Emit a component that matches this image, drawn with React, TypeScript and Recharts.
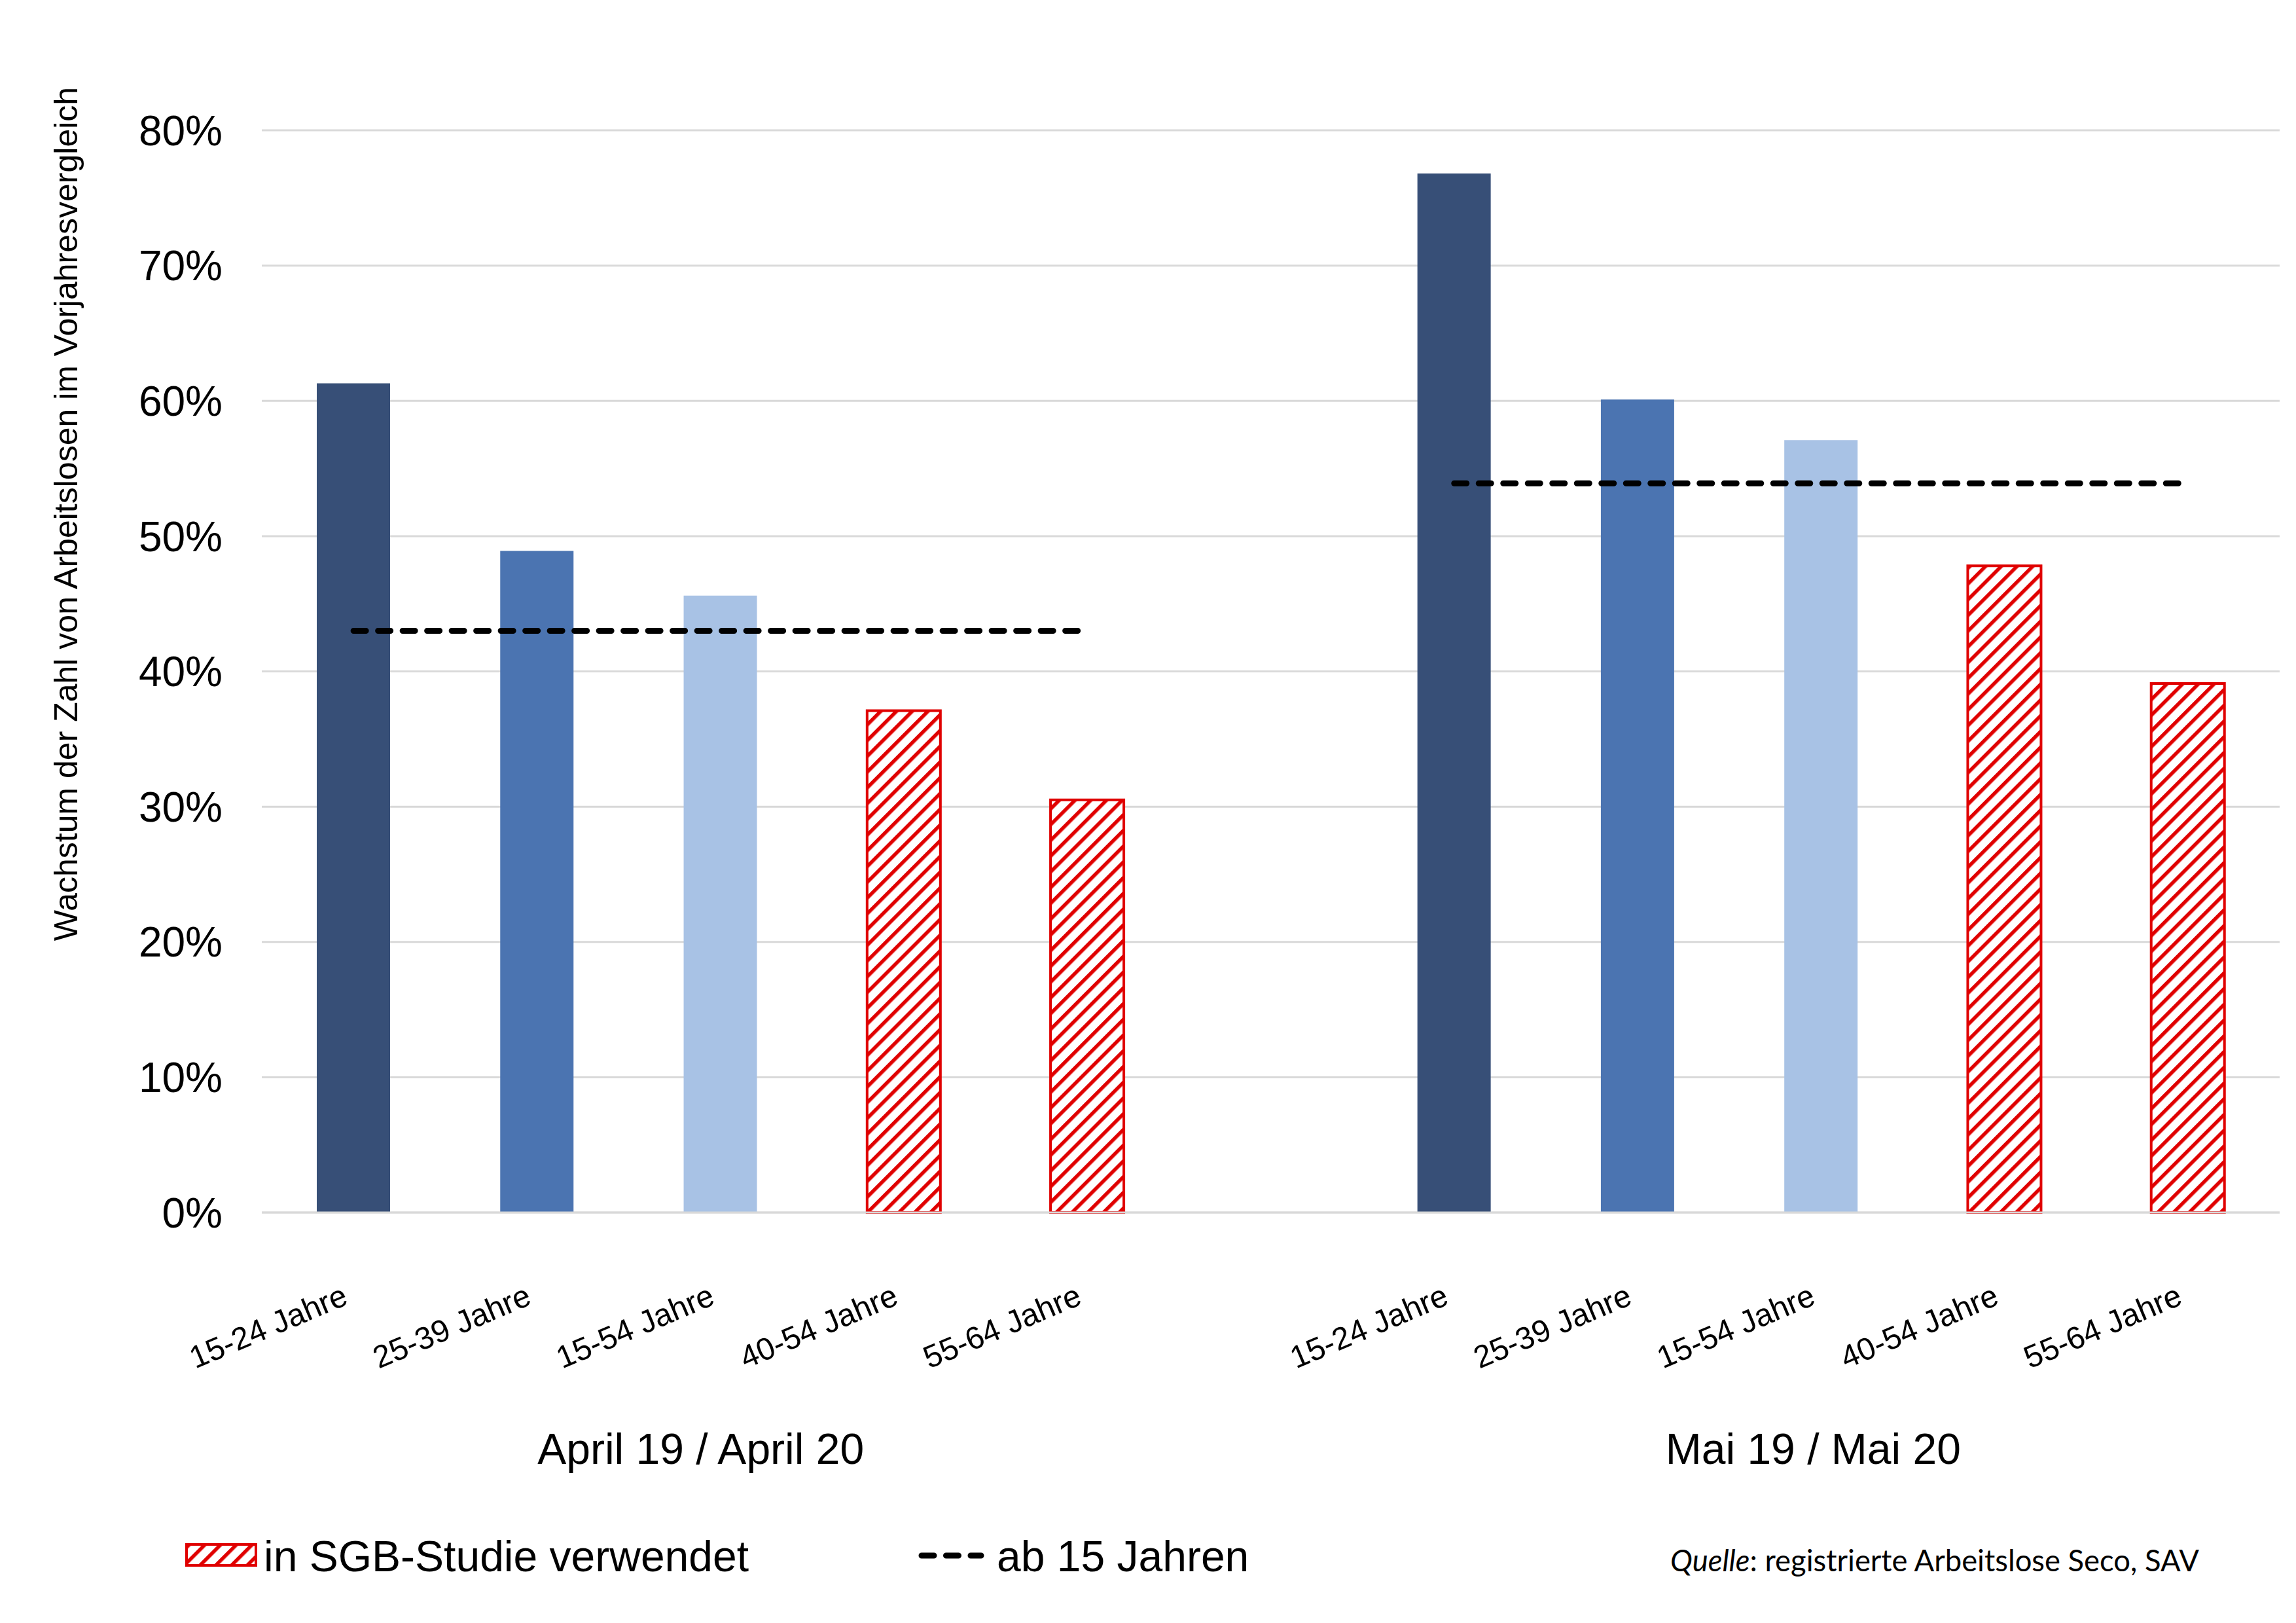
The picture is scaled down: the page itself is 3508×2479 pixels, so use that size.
import React from "react";
import { ComposedChart, Bar, Line, XAxis, YAxis, CartesianGrid, Cell } from "recharts";

// ---- data ----
const ageGroups = ["15-24 Jahre", "25-39 Jahre", "15-54 Jahre", "40-54 Jahre", "55-64 Jahre"];
const periodLabels = ["April 19 / April 20", "Mai 19 / Mai 20"];
const aprilValues = [61.3, 48.9, 45.6, 37.1, 30.5];
const maiValues = [76.8, 60.1, 57.1, 47.8, 39.1];
const totalAb15 = [43.0, 53.9]; // "ab 15 Jahren" per period
const usedInStudy = [false, false, false, true, true];
const yTicks = [0, 10, 20, 30, 40, 50, 60, 70, 80];

const barColors = ["#374F77", "#4B74B1", "#A8C2E5"];
const HATCH_RED = "#E00000";
const FONT = "'Liberation Sans', Arial, Helvetica, sans-serif";

type Row = { key: string; label: string; value: number | null; total: number | null; idx: number; period: number };

const buildData = (): Row[] => {
  const rows: Row[] = [];
  [aprilValues, maiValues].forEach((vals, p) => {
    if (p > 0) rows.push({ key: "gap", label: "", value: null, total: null, idx: -1, period: -1 });
    vals.forEach((v, i) => {
      rows.push({ key: `p${p}-${i}`, label: ageGroups[i], value: v, total: totalAb15[p], idx: i, period: p });
    });
  });
  return rows;
};
const data = buildData();

const CategoryTick = (props: any) => {
  const { x, y, index } = props;
  const row = data[index];
  if (!row) return null;
  const ax = x - 6;
  const ay = y + 139;
  const mid = Math.floor(ageGroups.length / 2);
  const groupDx = row.period === 0 ? -30 : -12;
  return (
    <g>
      {row.label ? (
        <text
          x={ax}
          y={ay}
          transform={`rotate(-23 ${ax} ${ay})`}
          textAnchor="end"
          fontSize={48}
          fontFamily={FONT}
          fill="#000"
        >
          {row.label}
        </text>
      ) : null}
      {row.idx === mid ? (
        <text x={x + groupDx} y={y + 384} textAnchor="middle" fontSize={66} fontFamily={FONT} fill="#000">
          {periodLabels[row.period]}
        </text>
      ) : null}
    </g>
  );
};

const YAxisLabel = () => (
  <text
    x={118}
    y={785}
    transform="rotate(-90 118 785)"
    textAnchor="middle"
    fontSize={50}
    fontFamily={FONT}
    fill="#000"
  >
    Wachstum der Zahl von Arbeitslosen im Vorjahresvergleich
  </text>
);

export default function App() {
  return (
    <div style={{ position: "absolute", left: 0, top: 0, width: 3508, height: 2479, background: "#fff" }}>
      <svg width={0} height={0} style={{ position: "absolute" }}>
        <defs>
          <pattern id="hatch" patternUnits="userSpaceOnUse" width={17} height={17} patternTransform="rotate(45)">
            <rect x={0} y={0} width={17} height={17} fill="#fff" />
            <rect x={0} y={0} width={5.5} height={17} fill={HATCH_RED} />
          </pattern>
          <pattern id="hatchLegend" patternUnits="userSpaceOnUse" width={17} height={17} patternTransform="rotate(45)">
            <rect x={0} y={0} width={17} height={17} fill="#fff" />
            <rect x={0} y={0} width={5.5} height={17} fill={HATCH_RED} />
          </pattern>
        </defs>
      </svg>
      <ComposedChart
        width={3508}
        height={2479}
        data={data}
        margin={{ top: 199, right: 25, left: 2, bottom: 0 }}
      >
        <CartesianGrid vertical={false} stroke="#D9D9D9" strokeWidth={3} />
        <XAxis
          dataKey="key"
          height={627}
          interval={0}
          tickSize={0}
          tickMargin={0}
          tickLine={false}
          axisLine={{ stroke: "#D9D9D9", strokeWidth: 3 }}
          tick={<CategoryTick />}
        />
        <YAxis
          width={398}
          domain={[0, 80]}
          ticks={yTicks}
          tickFormatter={(v: number) => `${v}%`}
          axisLine={false}
          tickLine={false}
          tickSize={0}
          tickMargin={60}
          tick={{ fontSize: 64, fill: "#000", fontFamily: FONT }}
          label={<YAxisLabel />}
        />
        <Bar dataKey="value" barSize={112} isAnimationActive={false}>
          {data.map((row, i) => {
            const hatched = row.idx >= 0 && usedInStudy[row.idx];
            return (
              <Cell
                key={`c${i}`}
                fill={hatched ? "url(#hatch)" : barColors[Math.max(row.idx, 0) % barColors.length]}
                stroke={hatched ? HATCH_RED : "none"}
                strokeWidth={hatched ? 4 : 0}
              />
            );
          })}
        </Bar>
        <Line
          dataKey="total"
          type="linear"
          stroke="#000"
          strokeWidth={9}
          strokeDasharray="19 18.5"
          strokeLinecap="round"
          dot={false}
          activeDot={false}
          connectNulls={false}
          isAnimationActive={false}
        />
      </ComposedChart>
      <svg
        width={3508}
        height={2479}
        style={{ position: "absolute", left: 0, top: 0, pointerEvents: "none" }}
      >
        <rect x={285} y={2359} width={106} height={32} fill="url(#hatchLegend)" stroke={HATCH_RED} strokeWidth={4} />
        <text x={403} y={2400} fontSize={66} fontFamily={FONT} fill="#000">
          in SGB-Studie verwendet
        </text>
        <line
          x1={1408}
          y1={2376}
          x2={1499}
          y2={2376}
          stroke="#000"
          strokeWidth={9}
          strokeLinecap="round"
          strokeDasharray="19 18.5"
        />
        <text x={1523} y={2400} fontSize={66} fontFamily={FONT} fill="#000">
          ab 15 Jahren
        </text>
        <text
          x={2552}
          y={2400}
          fontSize={46}
          fontFamily="Lato, 'Open Sans', sans-serif"
          fill="#000"
          textLength={808}
          lengthAdjust="spacingAndGlyphs"
        >
          <tspan fontStyle="italic">Quelle</tspan>
          <tspan>: registrierte Arbeitslose Seco, SAV</tspan>
        </text>
      </svg>
    </div>
  );
}
